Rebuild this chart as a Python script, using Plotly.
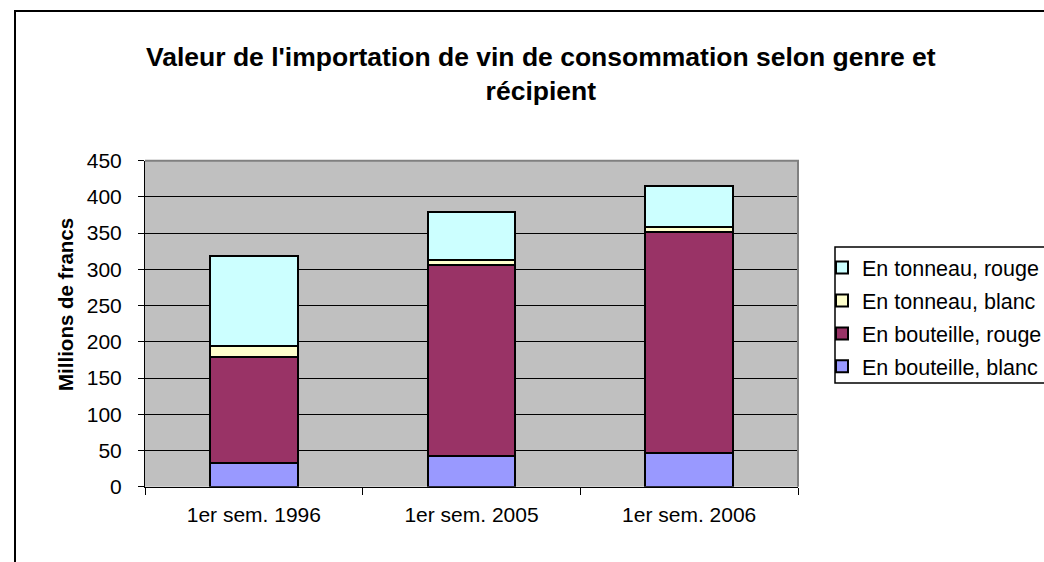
import plotly.graph_objects as go

categories = ["1er sem. 1996", "1er sem. 2005", "1er sem. 2006"]
bouteille_blanc = [33, 42, 47]
bouteille_rouge = [146, 264, 305]
tonneau_blanc = [15, 7, 6]
tonneau_rouge = [125, 66, 57]
series_names = ["En bouteille, blanc", "En bouteille, rouge", "En tonneau, blanc", "En tonneau, rouge"]
series_values = [bouteille_blanc, bouteille_rouge, tonneau_blanc, tonneau_rouge]
colors = ["#9999FF", "#993366", "#FFFFCC", "#CCFFFF"]
y_ticks = list(range(0, 451, 50))
title_text = "<b>Valeur de l'importation de vin de consommation selon genre et<br>récipient</b>"
y_title = "<b>Millions de francs</b>"

W, H = 1044, 562


def px(x):
    return x / W


def py(y):
    return 1 - y / H


FONT = "Liberation Sans, Arial, sans-serif"

# plot-area pixel bounds
L, R, T, B = 145, 798, 160.7, 486.7

fig = go.Figure()
n = len(series_names)
for i, (name, vals, col) in enumerate(zip(series_names, series_values, colors)):
    fig.add_bar(
        x=categories, y=vals, name=name, legendgroup=name, legendrank=n - i,
        marker=dict(color=col, line=dict(color="black", width=2)),
    )

fig.update_layout(
    width=W, height=H,
    template="none",
    barmode="stack",
    bargap=0.596,
    paper_bgcolor="white",
    plot_bgcolor="#C0C0C0",
    margin=dict(l=0, r=0, t=0, b=0, autoexpand=False),
    font=dict(family=FONT, size=21, color="black"),
    showlegend=True,
    legend=dict(
        x=px(822), xanchor="left", y=py(247), yanchor="top",
        traceorder="grouped", tracegroupgap=2,
        bgcolor="rgba(0,0,0,0)", borderwidth=0, bordercolor="rgba(0,0,0,0)",
        font=dict(family=FONT, size=21.5, color="black"),
    ),
    xaxis=dict(
        domain=[px(L), px(R)], automargin=False,
        showline=True, linecolor="black", linewidth=1,
        ticks="outside", ticklen=7, tickcolor="black", tickson="boundaries",
        ticklabelstandoff=9,
        tickfont=dict(size=21), showgrid=False,
    ),
    yaxis=dict(
        domain=[py(B), py(T)], automargin=False,
        range=[0, 450], tickvals=y_ticks,
        showline=True, linecolor="black", linewidth=1,
        ticks="outside", ticklen=6, tickcolor="black",
        ticklabelstandoff=12,
        showgrid=True, gridcolor="black", gridwidth=1, zeroline=False,
        tickfont=dict(size=21),
    ),
    annotations=[
        dict(text=title_text, x=px(541), y=py(73.5), xref="paper", yref="paper",
             xanchor="center", yanchor="middle", showarrow=False,
             font=dict(family=FONT, size=26.5, color="black")),
        dict(text=y_title, x=px(65), y=py(305), xref="paper", yref="paper",
             xanchor="center", yanchor="middle", textangle=-90, showarrow=False,
             font=dict(family=FONT, size=20.5, color="black")),
    ],
    shapes=[
        # outer chart border
        dict(type="rect", xref="paper", yref="paper",
             x0=px(15), x1=1.2, y0=-0.2, y1=py(11),
             line=dict(color="black", width=2)),
        # plot area border (top & right, gray)
        dict(type="path", xref="paper", yref="paper",
             path=f"M {px(L)},{py(T)} L {px(R)},{py(T)} L {px(R)},{py(B)}",
             line=dict(color="#808080", width=2)),
        # legend border (open on the right, like the cropped original)
        dict(type="path", xref="paper", yref="paper",
             path=(f"M 1.2,{py(247)} L {px(835)},{py(247)} "
                   f"L {px(835)},{py(383)} L 1.2,{py(383)}"),
             line=dict(color="black", width=1.5)),
    ],
)

fig.write_html(
    "out.html",
    config={"displayModeBar": False},
    post_script="document.body.style.margin='0';document.body.style.overflow='hidden';",
)
